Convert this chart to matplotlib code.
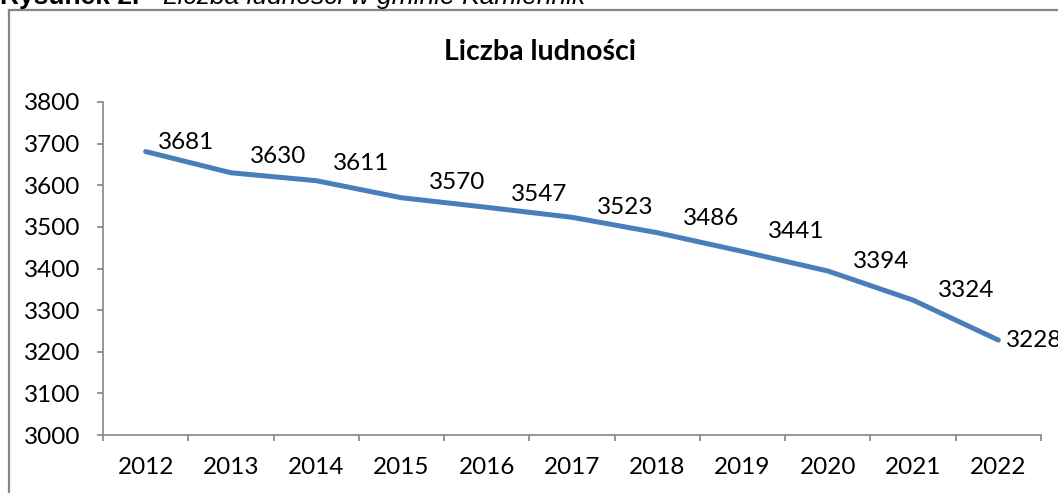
import matplotlib
matplotlib.use("Agg")
import matplotlib.pyplot as plt
from matplotlib.lines import Line2D

years = ["2012", "2013", "2014", "2015", "2016", "2017", "2018", "2019", "2020", "2021", "2022"]
population = [3681, 3630, 3611, 3570, 3547, 3523, 3486, 3441, 3394, 3324, 3228]
y_ticks = [3000, 3100, 3200, 3300, 3400, 3500, 3600, 3700, 3800]
title = "Liczba ludności"
caption_bold = "Rysunek 2."
caption_italic = "Liczba ludności w gminie Kamiennik"

# label offsets in pixels (dx to left edge of text, dy upward of text centre)
label_offsets_px = [(12, 9), (19, 16), (17, 17), (27, 15), (24, 13), (25, 10),
                    (26, 14), (25, 20), (25, 9), (25, 10), (8, 0)]

W, H = 1058, 493
DPI = 100
fig = plt.figure(figsize=(W / DPI, H / DPI), dpi=DPI)
font = "Lato"
gray = "#868686"
fs = 17.5

ax = fig.add_axes([103 / W, 1 - 435 / H, (1041 - 103) / W, (435 - 102) / H])
x = list(range(len(years)))
ax.plot(x, population, color="#4A7EBB", lw=3.6, solid_capstyle="round",
        solid_joinstyle="round", zorder=3)

ax.set_xlim(-0.5, len(years) - 0.5)
ax.set_ylim(y_ticks[0], y_ticks[-1])
ax.set_yticks(y_ticks)
ax.set_yticklabels([str(t) for t in y_ticks], fontsize=fs, family=font)
ax.set_xticks(x)
ax.set_xticklabels(years, fontsize=fs, family=font)
ax.set_xticks([i - 0.5 for i in range(len(years) + 1)], minor=True)
ax.tick_params(axis="x", which="major", length=0, pad=16)
ax.tick_params(axis="x", which="minor", length=4.5, width=1.2, color=gray, direction="out")
ax.tick_params(axis="y", which="major", length=4.5, width=1.2, color=gray, pad=12)
for side in ["top", "right"]:
    ax.spines[side].set_visible(False)
for side in ["left", "bottom"]:
    ax.spines[side].set_color(gray)
    ax.spines[side].set_linewidth(1.2)

px2pt = 72 / DPI
for xi, val, (dx, dy) in zip(x, population, label_offsets_px):
    ax.annotate(str(val), (xi, val), xytext=(dx * px2pt, dy * px2pt),
                textcoords="offset points", ha="left", va="center",
                fontsize=fs, family=font, annotation_clip=False, zorder=4)

fig.text(540 / W, 1 - 52 / H, title, ha="center", va="center",
         fontsize=20.5, fontweight="bold", family=font)

# outer frame (left and top edges visible)
fig.add_artist(Line2D([9 / W, 9 / W], [0, 1 - 10 / H], color=gray, lw=1.6,
                      transform=fig.transFigure))
fig.add_artist(Line2D([9 / W, 1], [1 - 10 / H, 1 - 10 / H], color=gray, lw=1.6,
                      transform=fig.transFigure))

# caption clipped at the top
fig.text(0, 1 - 4 / H, caption_bold, ha="left", va="baseline",
         fontsize=19, fontweight="bold", family="Liberation Sans")
fig.text(163 / W, 1 - 4 / H, caption_italic, ha="left", va="baseline",
         fontsize=19, fontstyle="italic", family="Liberation Sans")

fig.savefig("out.png", dpi=DPI)
